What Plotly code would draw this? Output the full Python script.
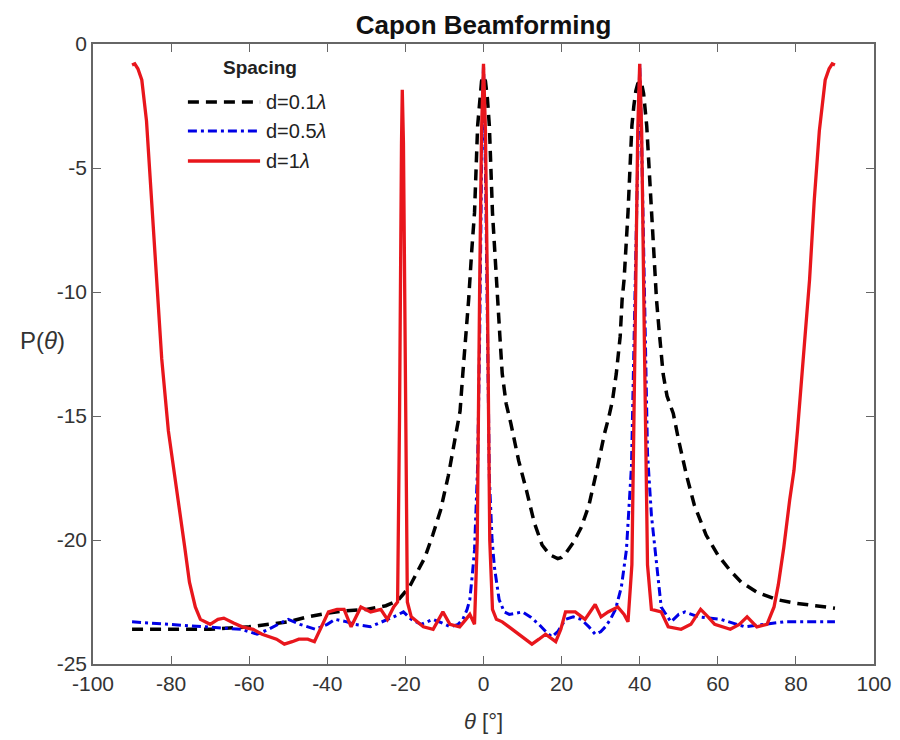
import plotly.graph_objects as go

# ---------------- data ----------------
theta_01 = [-90, -85, -80, -75, -70, -65, -60, -55, -50, -45, -40, -35, -30, -25, -22, -19, -17, -15, -13, -11, -9, -7, -6,
            -5.3, -4.5, -3.8, -3, -2.3, -1.5, -1, -0.5, 0, 0.5, 1, 1.5, 2.3, 3.5, 4.2, 4.8, 5.8, 7, 9, 11, 13, 15, 17, 19,
            20, 21, 23, 25, 27, 29, 30, 31, 32, 33, 34, 35, 35.5, 36, 37, 38, 38.5, 39, 39.5, 40, 40.5, 41, 41.8, 42.5, 43,
            44.3, 45, 46, 47, 48.6, 50, 52, 54, 57, 60, 63, 66, 70, 75, 80, 85, 90]
p_01 = [-23.6, -23.6, -23.6, -23.6, -23.6, -23.55, -23.5, -23.4, -23.3, -23.1, -22.95, -22.85, -22.8, -22.65, -22.45, -21.9,
        -21.3, -20.7, -19.8, -18.8, -17.4, -15.6, -14.8, -13.3, -11.8, -10.3, -8.3, -6.8, -3.3, -2.2, -1.5, -1.3, -1.5, -2.2,
        -3.3, -6.8, -10.3, -11.8, -13.3, -14.5, -15.3, -16.8, -18.0, -19.3, -20.2, -20.6, -20.75, -20.7, -20.55, -20.1,
        -19.5, -18.6, -17.2, -16.4, -15.7, -15.1, -14.4, -13.3, -11.8, -10.3, -9.5, -6.8, -3.3, -2.5, -1.9, -1.6, -1.5,
        -1.6, -2.0, -3.3, -5.2, -6.8, -10.3, -11.6, -13.3, -14.2, -14.9, -16.0, -17.4, -18.6, -19.8, -20.6, -21.2, -21.7,
        -22.1, -22.4, -22.55, -22.65, -22.75]

theta_05 = [-90, -85, -80, -75, -70, -65, -62, -58, -55, -52, -50, -47, -43, -40, -38, -35, -33, -29, -26, -23, -20.5, -18.5,
            -16, -13, -10.5, -8.5, -6.5, -5.3, -4.2, -3.5, -2.8, -2.3, -1.5, -1, -0.5, 0, 0.5, 1, 1.5, 2.2, 2.8, 4, 5.3,
            6.6, 8.5, 10, 12, 14.2, 16, 17.5, 19, 21, 23, 25, 27, 28.6, 30, 31.2, 32.5, 33.8, 35.3, 36.6, 37.9, 38.8, 39.5,
            40, 40.5, 41.2, 42, 43, 44, 45.5, 48, 50, 51.6, 55, 60.8, 66.9, 72, 77, 83.7, 90]
p_05 = [-23.3, -23.35, -23.4, -23.45, -23.5, -23.55, -23.6, -23.8, -23.6, -23.35, -23.2, -23.4, -23.6, -23.4, -23.2, -23.3,
        -23.4, -23.5, -23.3, -23.1, -22.9, -23.2, -23.4, -23.2, -23.35, -23.5, -23.4, -23.2, -22.8, -22.4, -21.3, -20.4,
        -17.0, -12.0, -5.0, -0.8, -5.0, -12.0, -17.5, -20.0, -21.1, -22.4, -22.9, -23.0, -22.95, -22.9, -23.1, -23.4, -23.7,
        -23.9, -23.7, -23.2, -23.1, -23.2, -23.5, -23.8, -23.7, -23.5, -23.2, -22.8, -21.9, -20.4, -17.0, -10.0, -4.0,
        -0.8, -4.0, -10.0, -16.5, -19.0, -20.4, -22.7, -23.3, -23.0, -22.9, -23.1, -23.2, -23.5, -23.4, -23.3, -23.3, -23.3]

theta_1 = [-90, -89.3, -88.5, -87.5, -86.3, -85, -83.7, -82.4, -80.7, -78.1, -76.5, -75.3, -73.8, -72.5, -70, -68, -66.5, -64,
           -61.8, -59, -56.7, -53, -51, -49, -47.3, -45, -43.3, -41.5, -39.7, -37.5, -35.7, -33.9, -31.4, -28.9, -26.3,
           -24.6, -23, -22, -21.5, -21, -20.8, -20.5, -20, -19.5, -18.5, -17, -15.4, -12.9, -11.5, -10.4, -8.6, -6.1, -4.5,
           -3.5, -2.3, -1.6, -1, -0.5, 0, 0.5, 1, 1.6, 2.3, 3.3, 4.8, 7.3, 9.9, 12.4, 14.2, 15.9, 18.5, 19.8, 21, 23.5, 26,
           28.6, 30.1, 31.9, 34.4, 36, 37, 38, 38.8, 39.5, 40, 40.5, 41.2, 42, 43, 45.5, 47.3, 50.6, 53.1, 55.6, 57.5,
           59.2, 63.2, 65.5, 67.5, 70, 72.6, 74.4, 75.5, 76.9, 78.4, 79.5, 80.4, 81.9, 83.5, 84.7, 86, 87.5, 88.5, 89.3, 90]
p_1 = [-0.85, -0.8, -1.0, -1.45, -3.1, -6.3, -9.5, -12.7, -15.6, -18.4, -20.3, -21.7, -22.7, -23.2, -23.4, -23.2, -23.15,
       -23.35, -23.5, -23.6, -23.8, -24.0, -24.2, -24.1, -24.0, -24.0, -24.1, -23.5, -22.9, -22.8, -22.8, -23.5, -22.7,
       -22.9, -22.8, -23.2, -22.7, -22.5, -15.0, -4.0, -1.85, -4.0, -15.0, -22.5, -23.1, -23.3, -23.5, -23.6, -23.2, -22.9,
       -23.4, -23.5, -23.2, -23.0, -23.4, -20.0, -10.0, -3.5, -0.8, -3.5, -10.0, -20.0, -22.8, -23.2, -23.3, -23.6, -23.9,
       -24.2, -24.0, -23.8, -24.1, -23.6, -22.9, -22.9, -23.2, -22.6, -23.1, -22.9, -22.7, -23.0, -23.3, -21.0, -12.0,
       -3.5, -0.8, -3.5, -12.0, -21.0, -22.8, -22.9, -23.5, -23.6, -23.4, -22.8, -23.1, -23.4, -23.6, -23.4, -23.1, -23.5,
       -23.4, -22.7, -21.8, -20.3, -18.4, -17.2, -15.6, -12.7, -9.5, -6.3, -3.5, -1.45, -1.0, -0.8, -0.85]

series_names = ["d=0.1λ", "d=0.5λ", "d=1λ"]
legend_labels = ["d=0.1<i>λ</i>", "d=0.5<i>λ</i>", "d=1<i>λ</i>"]
x_ticks = [-100, -80, -60, -40, -20, 0, 20, 40, 60, 80, 100]
x_tick_text = ["-100", "-80", "-60", "-40", "-20", "0", "20", "40", "60", "80", "100"]
y_ticks = [0, -5, -10, -15, -20, -25]
y_tick_text = ["0", "-5", "-10", "-15", "-20", "-25"]

# ---------------- figure ----------------
FONT = "Liberation Sans, Arial, sans-serif"
colors = ["#000000", "#0000e6", "#e8161c"]
dashes = ["11px,7px", "9px,4px,3px,4px", "solid"]
widths = [3.5, 3, 3.3]

fig = go.Figure()
for th, p, name, c, d, w in zip([theta_01, theta_05, theta_1], [p_01, p_05, p_1], series_names, colors, dashes, widths):
    fig.add_trace(go.Scatter(x=th, y=p, mode="lines", name=name,
                             line=dict(color=c, dash=d, width=w), showlegend=False))

OFFX, OFFY = 4, 8          # page offset of the figure inside the browser window
SX0, SX1, SY0, SY1 = 89, 879, 44, 664   # desired plot area on screen
W, H = 896, 726
L = SX0 - OFFX
R = W - (SX1 - OFFX)
T = SY0 - OFFY
B = H - (SY1 - OFFY)
pw, ph = W - L - R, H - T - B

def px(xs):
    return (xs - OFFX - L) / pw

def py(ys):
    return 1 - (ys - OFFY - T) / ph

shapes = []
annotations = []
leg_y = [102, 131, 161]
for lab, c, d, w, yy in zip(legend_labels, colors, dashes, widths, leg_y):
    shapes.append(dict(type="line", xref="paper", yref="paper", x0=px(185), x1=px(258), y0=py(yy), y1=py(yy),
                       line=dict(color=c, dash=d, width=w)))
    annotations.append(dict(text=lab, xref="paper", yref="paper", x=px(262), y=py(yy), xanchor="left",
                            yanchor="middle", showarrow=False, font=dict(family=FONT, size=20, color="#222")))
annotations.append(dict(text="<b>Spacing</b>", xref="paper", yref="paper", x=px(258), y=py(68), xanchor="center",
                        yanchor="middle", showarrow=False, font=dict(family=FONT, size=19, color="#222")))
annotations.append(dict(text="P(<i>θ</i>)", xref="paper", yref="paper", x=px(38), y=py(340), xanchor="center",
                        yanchor="middle", showarrow=False, font=dict(family=FONT, size=24, color="#333")))
annotations.append(dict(text="<i>θ</i> [°]", xref="paper", yref="paper", x=px(484), y=py(721), xanchor="center",
                        yanchor="middle", showarrow=False, font=dict(family=FONT, size=22, color="#333")))

axis_common = dict(showgrid=False, zeroline=False, showline=True, linecolor="#666", linewidth=1.5, mirror="ticks",
                   ticks="inside", ticklen=8, tickwidth=1.2, tickcolor="#666",
                   tickfont=dict(family=FONT, size=21, color="#333"))

fig.update_layout(
    width=W, height=H, margin=dict(l=L, r=R, t=T, b=B),
    paper_bgcolor="white", plot_bgcolor="white",
    title=dict(text="<b>Capon Beamforming</b>", x=px(484), xref="paper", xanchor="center",
               y=1 - (25 - OFFY) / H, yanchor="middle", font=dict(family=FONT, size=26, color="#111")),
    xaxis=dict(range=[-100, 100], tickvals=x_ticks, ticktext=x_tick_text, **axis_common),
    yaxis=dict(range=[-25, 0], tickvals=y_ticks, ticktext=y_tick_text, **axis_common),
    shapes=shapes, annotations=annotations, showlegend=False,
)

fig.write_html("out.html")
